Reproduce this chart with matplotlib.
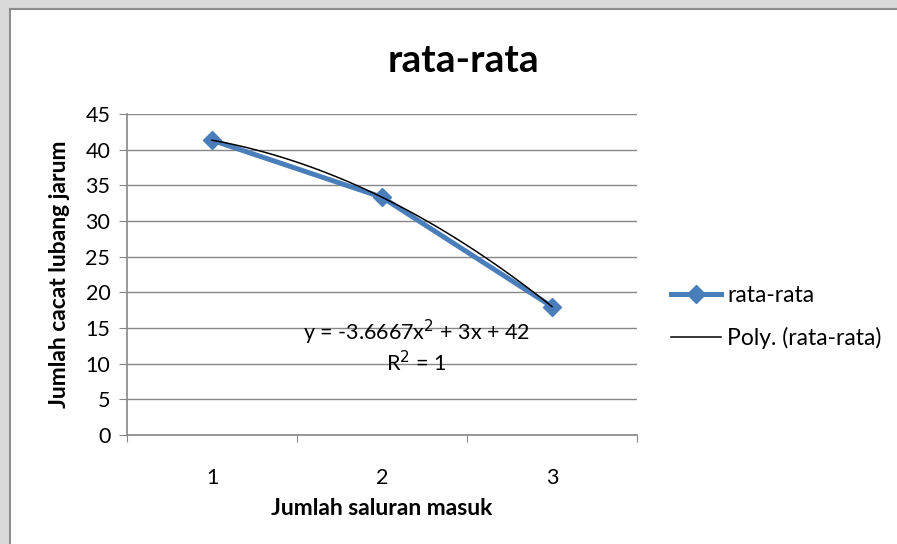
import numpy as np
import matplotlib.pyplot as plt
from matplotlib.patches import Rectangle

# data
categories = ['1', '2', '3']
rata_rata = [41.33, 33.33, 18.0]
y_ticks = [0, 5, 10, 15, 20, 25, 30, 35, 40, 45]

plt.rcParams['font.family'] = ['Lato', 'DejaVu Sans']

fig = plt.figure(figsize=(8.97, 5.44), dpi=100)
fig.patch.set_facecolor('#d9d9d9')

# chart frame
frame = Rectangle((9.5 / 897, -0.05), 1.1, 1 - 8.5 / 544 + 0.05,
                  transform=fig.transFigure, facecolor='white',
                  edgecolor='#8c8c8c', linewidth=1.5, zorder=-10)
fig.patches.append(frame)

ax = fig.add_axes([127 / 897, 1 - 435 / 544, 510 / 897, 321 / 544])
ax.set_facecolor('none')

x = np.arange(1, len(categories) + 1)
ax.plot(x, rata_rata, color='#4a7ebb', linewidth=3.6, marker='D',
        markersize=9.5, label='rata-rata', zorder=3)

# polynomial trendline (order 2)
coef = np.polyfit(x, rata_rata, 2)
xs = np.linspace(1, 3, 100)
ax.plot(xs, np.polyval(coef, xs), color='black', linewidth=1.1,
        label='Poly. (rata-rata)', zorder=4)

ax.text(2.2, 14.4, 'y = -3.6667x$^{2}$ + 3x + 42', ha='center', va='center',
        fontsize=15.5)
ax.text(2.2, 10.1, 'R$^{2}$ = 1', ha='center', va='center', fontsize=15.5)

ax.set_xlim(0.5, 3.5)
ax.set_ylim(0, 45)
ax.set_yticks(y_ticks)
ax.set_xticks([0.5, 1.5, 2.5, 3.5])
ax.set_xticklabels([])
ax.set_xticks(x, minor=True)
ax.set_xticklabels(categories, minor=True)
ax.tick_params(axis='x', which='minor', length=0, labelsize=15.5, pad=24)
ax.tick_params(axis='x', which='major', length=5, color='#868686', direction='out')
ax.tick_params(axis='y', length=6, color='#868686', labelsize=15.5, pad=6)

ax.grid(axis='y', color='#868686', linewidth=1)
ax.set_axisbelow(True)
for s in ['top', 'right']:
    ax.spines[s].set_visible(False)
for s in ['left', 'bottom']:
    ax.spines[s].set_color('#868686')
    ax.spines[s].set_linewidth(1.2)

fig.text(463 / 897, 1 - 72 / 544, 'rata-rata', ha='center', va='baseline',
         fontsize=28, fontweight='bold')
ax.set_xlabel('Jumlah saluran masuk', fontsize=16.5, fontweight='bold', labelpad=7)
ax.set_ylabel('Jumlah cacat lubang jarum', fontsize=16.5, fontweight='bold', labelpad=11)

fig.legend(loc='center left', bbox_to_anchor=(650 / 897, 1 - 317 / 544),
           frameon=False, fontsize=16.5, handlelength=2.2, labelspacing=0.95,
           handletextpad=0.27)

fig.savefig('out.png', dpi=100, facecolor=fig.get_facecolor())
